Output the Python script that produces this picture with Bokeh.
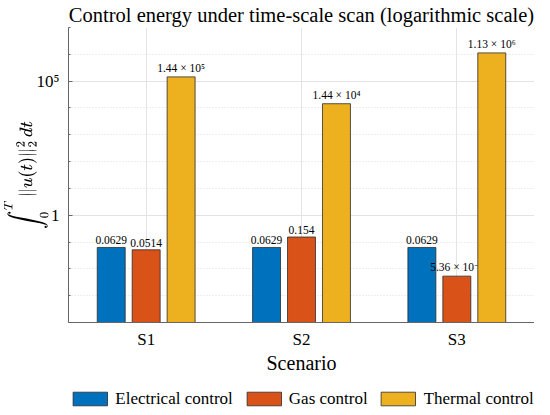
from bokeh.plotting import figure
from bokeh.layouts import column
from bokeh.models import (FixedTicker, Legend, LegendItem, ColumnDataSource,
                          Range1d)
from bokeh.transform import dodge
from bokeh.core.properties import value
from bokeh.embed import file_html
from bokeh.resources import INLINE

scenarios = ["S1", "S2", "S3"]
electrical = [0.0629, 0.0629, 0.0629]
gas = [0.0514, 0.154, 5.36e-3]
thermal = [1.44e5, 1.44e4, 1.13e6]
elec_labels = ["0.0629", "0.0629", "0.0629"]
gas_labels = ["0.0514", "0.154", "5.36 × 10⁻³"]
therm_labels = ["1.44 × 10⁵", "1.44 × 10⁴", "1.13 × 10⁶"]
series_names = ["Electrical control", "Gas control", "Thermal control"]
colors = ["#0072BD", "#D95319", "#EDB120"]

FONT = "Liberation Serif, DejaVu Serif"
x = [1, 2, 3]
src = ColumnDataSource(dict(x=x, e=electrical, g=gas, t=thermal,
                            el=elec_labels, gl=gas_labels, tl=therm_labels,
                            bottom=[1e-4] * 3))

p = figure(width=534, height=385, y_axis_type="log",
           x_range=Range1d(0.5, 3.5), y_range=Range1d(1e-4, 1e7),
           output_backend="svg", toolbar_location=None,
           title="Control energy under time-scale scan (logarithmic scale)",
           min_border_left=59, min_border_right=0, min_border_top=0,
           min_border_bottom=63)
p.title.text_font = FONT
p.title.text_font_size = "20.5px"
p.title.text_font_style = "normal"
p.title.align = "center"
p.title.text_color = "#000000"
p.title.standoff = 3
p.outline_line_color = None

offs = [-0.225, 0.0, 0.225]
cols = ["e", "g", "t"]
lcols = ["el", "gl", "tl"]
renderers = []
for off, c, lc, col in zip(offs, cols, lcols, colors):
    r = p.vbar(x=dodge("x", off, range=p.x_range), top=c, bottom="bottom",
               width=0.18, source=src, fill_color=col,
               line_color="#2b2b2b", line_width=0.8)
    renderers.append(r)
    p.text(x=dodge("x", off, range=p.x_range), y=c, text=lc, source=src,
           text_align="center", text_baseline="bottom", y_offset=-3,
           text_font=value(FONT), text_font_size="11.5px", text_color="#000000")

p.xaxis.ticker = FixedTicker(ticks=x)
p.xaxis.major_label_overrides = {xx: s for xx, s in zip(x, scenarios)}
p.yaxis.ticker = FixedTicker(ticks=[1, 1e5],
                             minor_ticks=[1e-4, 1e-3, 1e-2, 1e-1, 1, 10, 100,
                                          1e3, 1e4, 1e5, 1e6, 1e7])
p.yaxis.major_label_overrides = {1: "1", 1e5: "10⁵"}

for ax in (p.xaxis, p.yaxis):
    ax.axis_line_color = "#666666"
    ax.major_tick_line_color = "#666666"
    ax.minor_tick_line_color = "#666666"
    ax.major_tick_in = 4
    ax.major_tick_out = 0
    ax.minor_tick_in = 2
    ax.minor_tick_out = 0
    ax.major_label_text_font = FONT
    ax.major_label_text_font_size = "17px"
    ax.major_label_text_color = "#000000"
    ax.axis_label_text_font = FONT
    ax.axis_label_text_font_size = "20px"
    ax.axis_label_text_font_style = "normal"
    ax.axis_label_text_color = "#000000"
p.xaxis.major_tick_in = 0
p.xaxis.minor_tick_line_color = None
p.xaxis.axis_label = "Scenario"
p.xaxis.major_label_standoff = 7
p.xaxis.axis_label_standoff = 0
p.yaxis.axis_label = r"$$\int_0^T \|u(t)\|_2^2\,dt$$"
p.yaxis.axis_label_text_font_size = "17px"
p.yaxis.major_label_standoff = 9
p.yaxis.axis_label_standoff = -15

p.xgrid.grid_line_color = "#e3e3e3"
p.ygrid.grid_line_color = "#e3e3e3"
p.ygrid.minor_grid_line_color = "#dcdcdc"
p.ygrid.minor_grid_line_dash = "1 2"

# legend in its own strip below the chart (bars there lie outside its ranges)
lf = figure(width=534, height=27, x_range=Range1d(10, 11), y_range=Range1d(10, 11),
            output_backend="svg", toolbar_location=None,
            x_axis_location=None, y_axis_location=None,
            min_border_left=0, min_border_right=0, min_border_top=0,
            min_border_bottom=0)
lf.outline_line_color = None
lf.xgrid.visible = False
lf.ygrid.visible = False
keys = [lf.vbar(x="x", top=c, bottom="bottom", width=0.18, source=src,
                fill_color=col, line_color="#2b2b2b", line_width=0.8)
        for c, col in zip(cols, colors)]
legend = Legend(items=[LegendItem(label=n, renderers=[r])
                       for n, r in zip(series_names, keys)],
                orientation="horizontal", location="center",
                label_text_font=FONT, label_text_font_size="17px",
                label_text_color="#000000",
                glyph_width=43, glyph_height=17, label_standoff=4,
                spacing=9, padding=4, margin=0,
                border_line_color="#666666", border_line_width=1,
                background_fill_alpha=1.0)
lf.add_layout(legend, "center")

layout = column(p, lf, spacing=0)
open("out.html", "w").write(file_html(layout, INLINE))
